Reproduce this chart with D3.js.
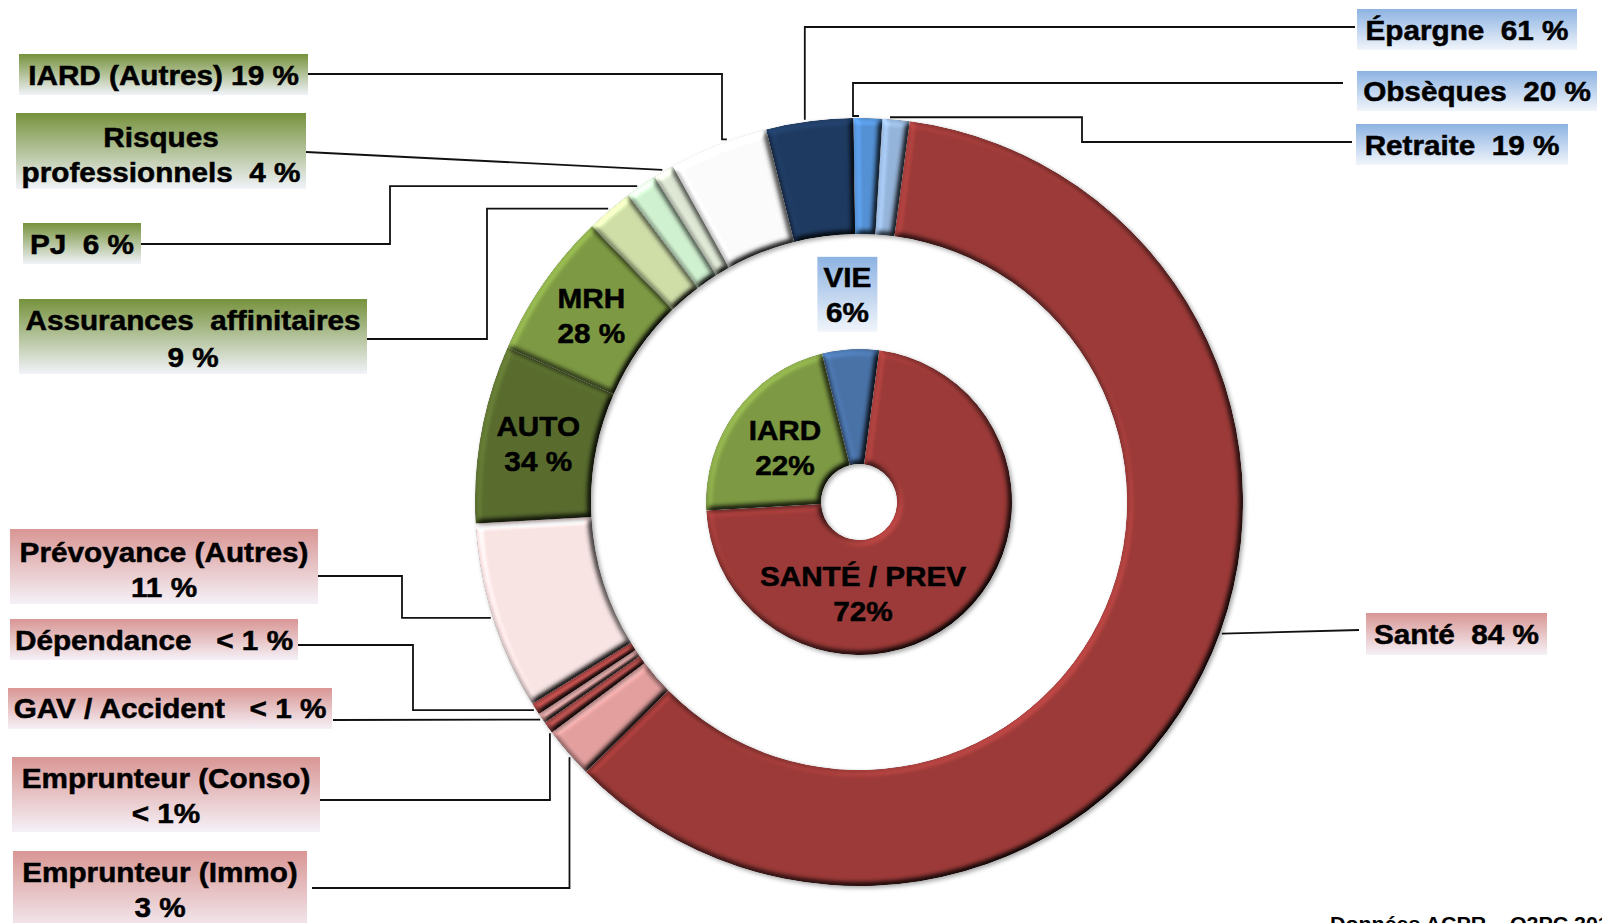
<!DOCTYPE html>
<html><head><meta charset="utf-8">
<script src="https://cdn.jsdelivr.net/npm/d3@7"></script>
<style>
html,body{margin:0;padding:0;background:#fff;overflow:hidden}
svg{display:block}
text{font-family:"Liberation Sans",Arial,sans-serif;font-weight:bold;white-space:pre}
</style></head><body>
<svg id="chart" width="1602" height="923"></svg>
<script>
// ---------------- DATA ----------------
const parentNames  = ["VIE", "SANTÉ / PREV", "IARD"];
const parentValues = [6, 72, 22];
const parentLabels = ["6%", "72%", "22%"];

const vieNames  = ["Épargne", "Obsèques", "Retraite"];
const vieValues = [61, 20, 19];
const vieLabels = ["61 %", "20 %", "19 %"];

const santeNames  = ["Santé", "Emprunteur (Immo)", "Emprunteur (Conso)", "GAV / Accident", "Dépendance", "Prévoyance (Autres)"];
const santeValues = [84, 3, 0.7, 0.6, 0.7, 11];
const santeLabels = ["84 %", "3 %", "< 1%", "< 1 %", "< 1 %", "11 %"];

const iardNames  = ["AUTO", "MRH", "Assurances affinitaires", "PJ", "Risques professionnels", "IARD (Autres)"];
const iardValues = [34, 28, 9, 6, 4, 19];
const iardLabels = ["34 %", "28 %", "9 %", "6 %", "4 %", "19 %"];

const sourceNote = "Données ACPR – O2PC 2016";

// ---------------- STYLE ----------------
const parentColors = ["#4A74AA", "#9E3B39", "#7F9C44"];
const vieColors   = ["#1F3B62", "#5593D8", "#98B7DD"];
const santeColors = ["#9E3B39", "#E6A2A1", "#B24E4C", "#E3A6A5", "#B84C4A", "#FDE8E8"];
const iardColors  = ["#5A6E2F", "#7F9C44", "#D2E1AA", "#D3F5D3", "#E2EBD8", "#FFFFFF"];

// ---------------- LAYOUT ----------------
const W = 1602, H = 923;
const cx = 859, cy = 502;
const ringOuter = 384, ringInner = 268;
const pieOuter = 153, pieInner = 38;
const startDeg = -14;
const FS = 27, SX = 1.1, LINE_H = 35;

// callout boxes (layout only)
const callouts = {
  "IARD (Autres)":          {box:[19,54,308,95],    rows:[75],      lines:["IARD (Autres) {v}"],            theme:"green", sx:308, y0:74,  route:"hvh", elbow:722,  t:0.6},
  "Risques professionnels": {box:[16,113,306,189],  rows:[137,172], lines:["Risques","professionnels  {v}"], theme:"green", sx:306, y0:152, route:"direct", t:0.5},
  "PJ":                     {box:[23,223,141,264],  rows:[244],     lines:["PJ  {v}"],                       theme:"green", sx:141, y0:244, route:"hvh", elbow:390, t:0.4},
  "Assurances affinitaires":{box:[19,299,367,374],  rows:[320,357], lines:["Assurances  affinitaires","{v}"], theme:"green", sx:367, y0:339, route:"hvh", elbow:487, t:0.5},
  "Épargne":                {box:[1357,9,1577,50],  rows:[30],      lines:["Épargne  {v}"],                  theme:"blue",  sx:1355, y0:27, route:"hv", t:0.45},
  "Obsèques":               {box:[1357,71,1597,111],rows:[91],      lines:["Obsèques  {v}"],                 theme:"blue",  sx:1343, y0:83, route:"hvh", elbow:853, t:0.19},
  "Retraite":               {box:[1356,124,1568,165],rows:[145],    lines:["Retraite  {v}"],                 theme:"blue",  sx:1352, y0:142, route:"hvh", elbow:1082, t:0.27},
  "Santé":                  {box:[1366,613,1547,655],rows:[634],    lines:["Santé  {v}"],                    theme:"red",   sx:1359, y0:630, route:"direct", t:0.47},
  "Prévoyance (Autres)":    {box:[10,529,318,604],  rows:[552,587], lines:["Prévoyance (Autres)","{v}"],     theme:"red",   sx:318, y0:576, route:"hvh", elbow:402, t:0.5},
  "Dépendance":             {box:[10,619,298,660],  rows:[640],     lines:["Dépendance   {v}"],              theme:"red",   sx:298, y0:645, route:"hvh", elbow:413, t:0.5},
  "GAV / Accident":         {box:[8,688,332,729],   rows:[708],     lines:["GAV / Accident   {v}"],          theme:"red",   sx:333, y0:720, route:"direct", t:0.5},
  "Emprunteur (Conso)":     {box:[12,757,320,832],  rows:[778,813], lines:["Emprunteur (Conso)","{v}"],      theme:"red",   sx:320, y0:800, route:"hv", t:0.05},
  "Emprunteur (Immo)":      {box:[13,851,307,935],  rows:[872,907], lines:["Emprunteur (Immo)","{v}"],       theme:"red",   sx:312, y0:888, route:"hv", t:0.42}
};
const inRing = ["AUTO", "MRH"];

// ---------------- BUILD ----------------
const svg = d3.select("#chart");
const defs = svg.append("defs");

const themes = {green:["#76923C","#F1F3F9"], red:["#D99694","#F5F1F7"], blue:["#8DB3E2","#F1F5FB"]};
Object.entries(themes).forEach(([k,[c0,c1]]) => {
  const g = defs.append("linearGradient").attr("id","grad-"+k).attr("x1",0).attr("y1",0).attr("x2",0).attr("y2",1);
  g.append("stop").attr("offset","0%").attr("stop-color",c0);
  g.append("stop").attr("offset","100%").attr("stop-color",c1);
});

const f = defs.append("filter").attr("id","bevel").attr("filterUnits","userSpaceOnUse")
  .attr("x",-W).attr("y",-H).attr("width",2*W).attr("height",2*H).attr("color-interpolation-filters","sRGB");
f.append("feGaussianBlur").attr("in","SourceAlpha").attr("stdDeviation",3).attr("result","blur");
const dl = f.append("feDiffuseLighting").attr("in","blur").attr("surfaceScale",5).attr("diffuseConstant",1)
  .attr("lighting-color","#ffffff").attr("result","diff");
dl.append("feDistantLight").attr("azimuth",225).attr("elevation",55);
f.append("feComposite").attr("in","SourceGraphic").attr("in2","diff").attr("operator","arithmetic")
  .attr("k1",1.2).attr("k2",0).attr("k3",0).attr("k4",0).attr("result","shaded");
f.append("feComposite").attr("in","shaded").attr("in2","SourceAlpha").attr("operator","in").attr("result","shadedIn");
f.append("feGaussianBlur").attr("in","SourceAlpha").attr("stdDeviation",2).attr("result","sb");
f.append("feOffset").attr("in","sb").attr("dx",1.5).attr("dy",1.5).attr("result","so");
f.append("feFlood").attr("flood-color","#000").attr("flood-opacity",0.35).attr("result","fl");
f.append("feComposite").attr("in","fl").attr("in2","so").attr("operator","in").attr("result","shadow");
const fm = f.append("feMerge");
fm.append("feMergeNode").attr("in","shadow");
fm.append("feMergeNode").attr("in","shadedIn");

const rad = d => d * Math.PI / 180;
const a0 = rad(startDeg);

// outer ring data
const groups = [
  {names:vieNames, values:vieValues, labels:vieLabels, colors:vieColors},
  {names:santeNames, values:santeValues, labels:santeLabels, colors:santeColors},
  {names:iardNames, values:iardValues, labels:iardLabels, colors:iardColors}
];
const ringData = [];
groups.forEach((g, gi) => g.names.forEach((n, i) => ringData.push({
  name:n, value: parentValues[gi] * g.values[i] / 100, label:g.labels[i], color:g.colors[i]
})));

const pieGen = d3.pie().sort(null).value(d => d.value).startAngle(a0).endAngle(a0 + 2*Math.PI);
const ringArcs = pieGen(ringData);
const ringArc = d3.arc().innerRadius(ringInner).outerRadius(ringOuter);

const innerData = parentNames.map((n,i) => ({name:n, value:parentValues[i], label:parentLabels[i], color:parentColors[i]}));
const innerArcs = pieGen(innerData);
const innerArc = d3.arc().innerRadius(pieInner).outerRadius(pieOuter);

// leader lines (under everything else)
const leaders = svg.append("g");
const polar = (ang, r) => [cx + r*Math.sin(ang), cy - r*Math.cos(ang)];
ringArcs.forEach(a => {
  const c = callouts[a.data.name];
  if (!c) return;
  const ang = a.startAngle + c.t * (a.endAngle - a.startAngle);
  const [ex, ey] = polar(ang, 386);
  let pts;
  if (c.route === "hvh") pts = [[c.sx,c.y0],[c.elbow,c.y0],[c.elbow,ey],[ex,ey]];
  else if (c.route === "hv") pts = [[c.sx,c.y0],[ex,c.y0],[ex,ey]];
  else pts = [[c.sx,c.y0],[ex,ey]];
  leaders.append("path").attr("d", d3.line()(pts)).attr("fill","none")
    .attr("stroke","#111").attr("stroke-width",1.8);
});

const chart = svg.append("g").attr("transform",`translate(${cx},${cy})`);
chart.append("g").selectAll("path").data(ringArcs).join("path")
  .attr("d", ringArc).attr("fill", d => d.data.color).attr("filter","url(#bevel)");
chart.append("g").selectAll("path").data(innerArcs).join("path")
  .attr("d", innerArc).attr("fill", d => d.data.color).attr("filter","url(#bevel)");

// text helper
function textBlock(parent, x, rows, lines, fs) {
  lines.forEach((ln, i) => {
    parent.append("text").attr("transform",`translate(${x},${rows[i] + fs*0.37}) scale(${SX},1)`)
      .attr("text-anchor","middle").attr("font-size",fs).attr("font-weight","bold")
      .attr("fill","#000").attr("stroke","#000").attr("stroke-width",0.5).text(ln);
  });
}

// callout boxes
const boxes = svg.append("g");
ringArcs.forEach(a => {
  const c = callouts[a.data.name];
  if (!c) return;
  const [x0,y0,x1,y1] = c.box;
  boxes.append("rect").attr("x",x0).attr("y",y0).attr("width",x1-x0).attr("height",y1-y0)
    .attr("fill",`url(#grad-${c.theme})`);
  textBlock(boxes, (x0+x1)/2, c.rows, c.lines.map(s => s.replace("{v}", a.data.label)), FS);
});

// in-ring labels (AUTO, MRH)
const labelArc = d3.arc().innerRadius(ringInner).outerRadius(ringOuter);
ringArcs.filter(a => inRing.includes(a.data.name)).forEach(a => {
  const [x,y] = labelArc.centroid(a);
  textBlock(svg, cx + x, [cy + y - LINE_H/2, cy + y + LINE_H/2], [a.data.name, a.data.label], FS);
});

// inner pie labels
innerArcs.forEach(a => {
  const n = a.data.name;
  let ang, r;
  if (n === "VIE") { ang = (a.startAngle + a.endAngle)/2; r = 208; }
  else if (n === "IARD") { ang = (a.startAngle + a.endAngle)/2; r = 92; }
  else { ang = rad(177.5); r = 92; }
  const [x,y] = polar(ang, r);
  if (n === "VIE") {
    svg.append("rect").attr("x", x-30).attr("y", y-37.5).attr("width",60).attr("height",75)
      .attr("fill","url(#grad-blue)");
  }
  textBlock(svg, x, [y - LINE_H/2, y + LINE_H/2], [n, a.data.label], FS);
});

// source note (cut by frame, as in the reference)
svg.append("text").attr("transform",`translate(1330,931) scale(1.07,1)`)
  .attr("font-size",20).attr("font-weight","normal").attr("fill","#000").text(sourceNote);
</script>
</body></html>
